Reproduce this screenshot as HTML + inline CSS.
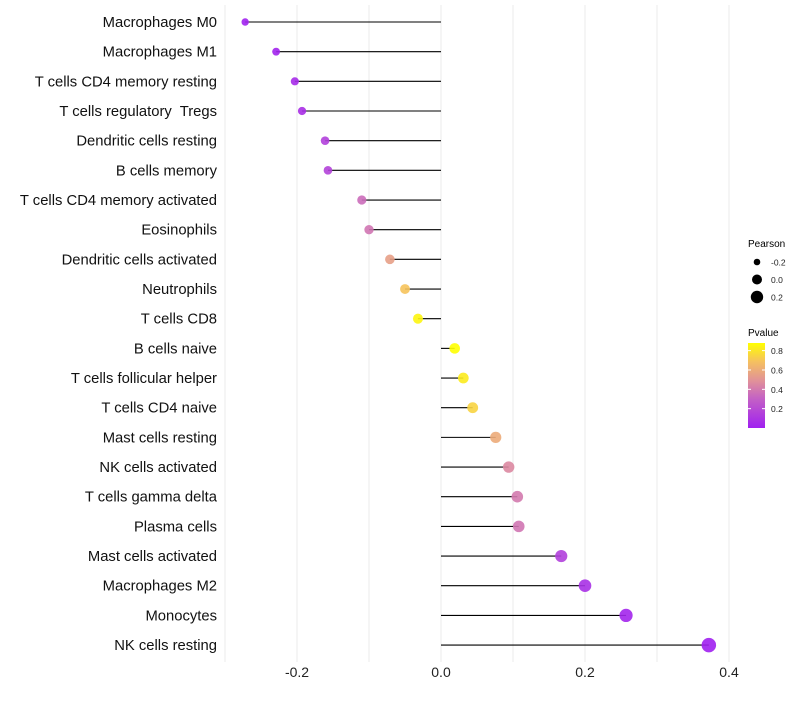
<!DOCTYPE html>
<html><head><meta charset="utf-8"><style>
body{margin:0;background:#fff;font-family:"Liberation Sans",Arial,sans-serif}
text{white-space:pre}
</style></head><body>
<svg id="chart" width="800" height="700" xmlns="http://www.w3.org/2000/svg" font-family="Liberation Sans, Arial, sans-serif">
<defs><linearGradient id="pg" x1="0" y1="1" x2="0" y2="0">
<stop offset="0" stop-color="#a020f0"/><stop offset="0.35" stop-color="#c462c4"/><stop offset="0.55" stop-color="#e0909a"/><stop offset="0.78" stop-color="#f5c060"/><stop offset="1" stop-color="#ffff00"/></linearGradient></defs>
<g id="grid"></g>
<g id="marks"></g>
<g id="ylabels"></g>
<g id="xlabels"></g>
<g>
<text x="748" y="247" font-size="10">Pearson</text>
<g id="sizeLegend"></g>
</g>
<g>
<text x="748" y="336" font-size="10">Pvalue</text>
<rect x="748" y="343" width="17" height="85" fill="url(#pg)"/>
<g id="colLegend"></g>
</g>
</svg>
<script>
const categories=["Macrophages M0","Macrophages M1","T cells CD4 memory resting","T cells regulatory  Tregs","Dendritic cells resting","B cells memory","T cells CD4 memory activated","Eosinophils","Dendritic cells activated","Neutrophils","T cells CD8","B cells naive","T cells follicular helper","T cells CD4 naive","Mast cells resting","NK cells activated","T cells gamma delta","Plasma cells","Mast cells activated","Macrophages M2","Monocytes","NK cells resting"];
const pearson=[-0.272,-0.229,-0.203,-0.193,-0.161,-0.157,-0.110,-0.100,-0.071,-0.050,-0.032,0.019,0.031,0.044,0.076,0.094,0.106,0.108,0.167,0.200,0.257,0.372];
const pvalues=[0.01,0.02,0.05,0.07,0.15,0.16,0.35,0.38,0.55,0.7,0.85,0.88,0.82,0.75,0.6,0.45,0.4,0.38,0.15,0.08,0.03,0.002];
const xTicks=[-0.2,0.0,0.2,0.4];
const xMinor=[-0.3,-0.1,0.1,0.3];
const sizeLegendVals=[-0.2,0.0,0.2];
const colLegendVals=[0.2,0.4,0.6,0.8];
const NS="http://www.w3.org/2000/svg";
const x=v=>441+v*720;
const y=i=>22+i*29.67;
const r=v=>Math.max(5.2+5.5*v,2);
const stops=[[0,[160,32,240]],[0.31,[196,98,196]],[0.48,[224,144,154]],[0.69,[245,192,96]],[0.88,[255,255,0]]];
function col(p){for(let k=1;k<stops.length;k++){if(p<=stops[k][0]||k==stops.length-1){const[a,c1]=stops[k-1],[b,c2]=stops[k];let t=Math.min(1,Math.max(0,(p-a)/(b-a)));return`rgb(${c1.map((c,j)=>Math.round(c+(c2[j]-c)*t)).join(',')})`;}}}
function mk(tag,attrs,parent){const e=document.createElementNS(NS,tag);for(const k in attrs)e.setAttribute(k,attrs[k]);parent.appendChild(e);return e;}
const grid=document.getElementById('grid');
xMinor.concat(xTicks).forEach(v=>{mk('line',{x1:x(v),x2:x(v),y1:5,y2:662,stroke:'#ebebeb','stroke-width':1},grid);});
const xl=document.getElementById('xlabels');
xTicks.forEach(v=>{const t=mk('text',{x:x(v),y:677,'font-size':14,'text-anchor':'middle',fill:'#222'},xl);t.textContent=v.toFixed(1);

});
const marks=document.getElementById('marks'),yl=document.getElementById('ylabels');
categories.forEach((c,i)=>{
const l=mk('line',{x1:x(0),x2:x(pearson[i]),y1:y(i),y2:y(i),stroke:'#000','stroke-width':1.1},marks);


const p=mk('circle',{cx:x(pearson[i]),cy:y(i),r:r(pearson[i]),fill:col(pvalues[i]),'fill-opacity':0.9},marks);


const t=mk('text',{x:217,y:y(i)+5,'font-size':14.8,'text-anchor':'end',fill:'#111'},yl);t.textContent=c;

});
const sl=document.getElementById('sizeLegend');
sizeLegendVals.forEach((v,i)=>{const cy=262+i*17.5;mk('circle',{cx:757,cy:cy,r:[3.3,5,6.2][i],fill:'#000'},sl);
const t=mk('text',{x:771,y:cy+3.5,'font-size':8.5,fill:'#222'},sl);t.textContent=v.toFixed(1);});
const cl=document.getElementById('colLegend');
colLegendVals.forEach(v=>{const yy=428-v*96.7;mk('line',{x1:748,x2:751,y1:yy,y2:yy,stroke:'#fff'},cl);mk('line',{x1:762,x2:765,y1:yy,y2:yy,stroke:'#fff'},cl);
const t=mk('text',{x:771,y:yy+3.5,'font-size':8.5,fill:'#222'},cl);t.textContent=v.toFixed(1);});
</script>
</body></html>
